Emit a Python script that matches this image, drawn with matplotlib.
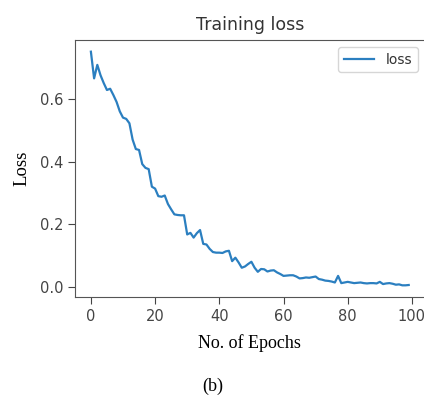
import matplotlib
matplotlib.use("Agg")
import matplotlib.pyplot as plt

epochs = list(range(100))
loss = [
    0.750, 0.665, 0.708, 0.675, 0.650, 0.628, 0.632, 0.612, 0.590, 0.560,
    0.540, 0.536, 0.522, 0.470, 0.440, 0.437, 0.392, 0.380, 0.376, 0.320,
    0.314, 0.290, 0.288, 0.292, 0.265, 0.248, 0.232, 0.230, 0.229, 0.229,
    0.168, 0.173, 0.158, 0.172, 0.182, 0.138, 0.136, 0.122, 0.112, 0.110,
    0.110, 0.109, 0.114, 0.116, 0.083, 0.094, 0.079, 0.062, 0.066, 0.074,
    0.081, 0.062, 0.049, 0.058, 0.057, 0.050, 0.053, 0.054, 0.047, 0.042,
    0.036, 0.037, 0.038, 0.038, 0.034, 0.028, 0.029, 0.031, 0.030, 0.032,
    0.034, 0.026, 0.024, 0.021, 0.020, 0.018, 0.015, 0.036, 0.013, 0.015,
    0.017, 0.015, 0.013, 0.014, 0.015, 0.013, 0.012, 0.013, 0.013, 0.012,
    0.017, 0.010, 0.012, 0.013, 0.011, 0.008, 0.009, 0.006, 0.006, 0.007,
]
xticks = [0, 20, 40, 60, 80, 100]
yticks = [0.0, 0.2, 0.4, 0.6]

fig = plt.figure(figsize=(4.24, 3.96), dpi=100)
ax = fig.add_axes([75/424, 99/396, 349.6/424, 257/396])
ax.plot(epochs, loss, color='#2b7fc0', lw=1.6, label='loss')
ax.set_xticks(xticks)
ax.set_yticks(yticks)
ax.tick_params(labelsize=10.5, colors='#444444', length=5)
for s in ax.spines.values():
    s.set_color('#555555')
ax.set_title('Training loss', fontsize=12.5, color='#333333', pad=7)
ax.set_xlabel('No. of Epochs', family='Liberation Serif', fontsize=13)
ax.xaxis.set_label_coords(0.5, (297-343)/257)
ax.xaxis.label.set_va('center')
ax.set_ylabel('Loss', family='Liberation Serif', fontsize=13.5)
ax.yaxis.set_label_coords((22-75)/349.6, 0.5)
ax.yaxis.label.set_va('center')
leg = ax.legend(loc='upper right', fontsize=10, handlelength=2.2)
leg.get_texts()[0].set_color('#333333')
fig.text(213/424, 1-386/396, '(b)', family='Liberation Serif', fontsize=13,
         ha='center', va='center')
fig.savefig('out.png', dpi=100)
